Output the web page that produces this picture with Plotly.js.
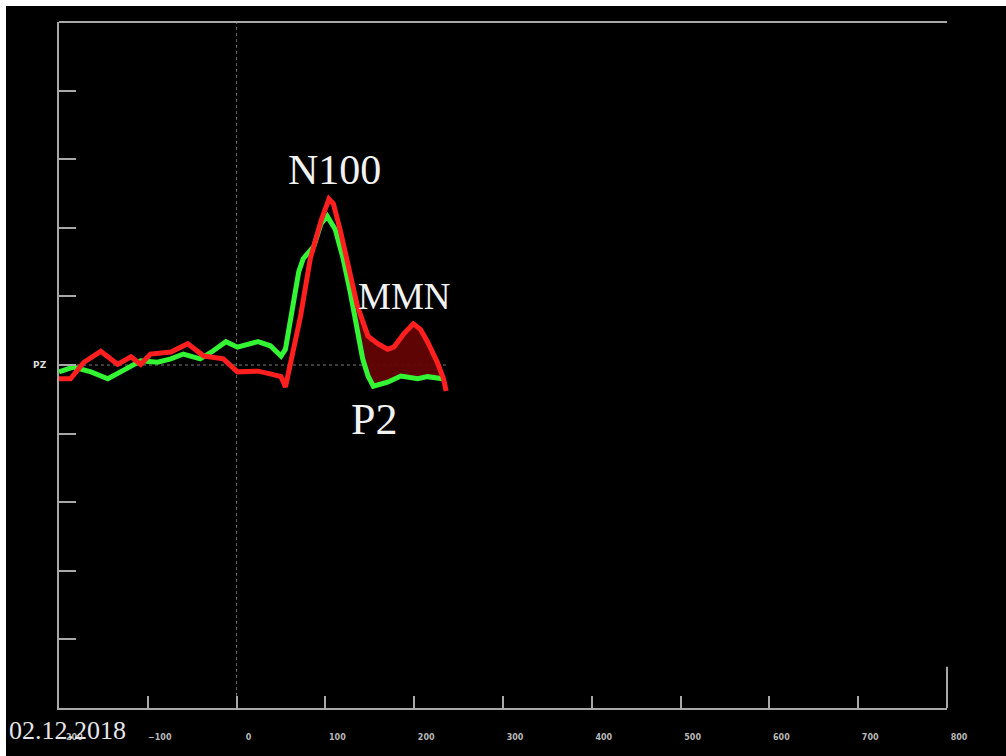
<!DOCTYPE html>
<html>
<head>
<meta charset="utf-8">
<script src="https://cdn.plot.ly/plotly-3.0.1.min.js"></script>
<style>
  html, body { margin: 0; padding: 0; background: #ffffff; }
  #erp { position: absolute; left: 6px; top: 6px; width: 1000px; height: 750px; background: #000; }
</style>
</head>
<body>
<div id="erp"></div>
<script>
// Averaged ERP at electrode PZ: standard (green) vs deviant (red), time in ms
const standardTime = [-200,-184,-164,-145,-125,-108,-89,-74,-60,-41,-27,-12,1,24,38,50,55,63,70,75,87,95,102,111,120,128,136,142,148,154,170,185,204,215,232];
const standardAmp  = [-0.10,-0.03,-0.10,-0.20,-0.06,0.06,0.04,0.09,0.16,0.09,0.20,0.34,0.26,0.34,0.28,0.13,0.23,0.86,1.36,1.55,1.73,2.06,2.17,1.98,1.55,1.06,0.52,0.09,-0.16,-0.31,-0.25,-0.16,-0.20,-0.17,-0.20];

const deviantTime = [-200,-187,-172,-153,-134,-119,-108,-97,-74,-55,-37,-15,1,24,38,50,55,61,72,83,95,104,109,117,125,136,148,159,170,177,188,199,207,215,226,233,236];
const deviantAmp  = [-0.20,-0.20,0.04,0.20,0.01,0.12,0.01,0.16,0.19,0.31,0.13,0.09,-0.10,-0.09,-0.13,-0.17,-0.32,0.04,0.71,1.55,2.10,2.42,2.35,1.95,1.50,0.86,0.42,0.31,0.23,0.26,0.45,0.60,0.52,0.34,0.04,-0.20,-0.38];

// Mismatch window shaded between the two waveforms
const mmnFrom = 136;

const xTickVals = [-200,-100,0,100,200,300,400,500,600,700,800];
const yTickVals = [-4,-3,-2,-1,0,1,2,3,4];
const yTickText = ['','','','','PZ','','','',''];

const peakLabels = [
  {text: 'N100', t: 110, v: 2.84, size: 42},
  {text: 'MMN',  t: 189, v: 1.00, size: 37},
  {text: 'P2',   t: 155, v: -0.80, size: 44}
];
const recordDate = '02.12.2018';

const axisGrey = '#a8a8a8';

function tail(ts, vs) {
  const x = [], y = [];
  ts.forEach((t, i) => { if (t >= mmnFrom) { x.push(t); y.push(vs[i]); } });
  return {x, y};
}
const sTail = tail(standardTime, standardAmp);
const dTail = tail(deviantTime, deviantAmp);

const traces = [
  {x: sTail.x, y: sTail.y, mode: 'lines', line: {width: 0}, hoverinfo: 'skip', showlegend: false},
  {x: dTail.x, y: dTail.y, mode: 'lines', line: {width: 0}, fill: 'tonexty',
   fillcolor: 'rgba(100,4,4,0.95)', hoverinfo: 'skip', showlegend: false},
  {x: standardTime, y: standardAmp, mode: 'lines', name: 'standard',
   line: {color: '#33f533', width: 5}, showlegend: false},
  {x: deviantTime, y: deviantAmp, mode: 'lines', name: 'deviant',
   line: {color: '#ff1f1f', width: 5}, showlegend: false}
];

const dataEnd = Math.max(...deviantTime, ...standardTime);

const layout = {
  width: 1000, height: 750,
  margin: {l: 53, r: 59, t: 16, b: 48},
  paper_bgcolor: '#000000',
  plot_bgcolor: '#000000',
  showlegend: false,
  xaxis: {
    range: [-200, 800], showgrid: false, zeroline: false,
    showline: true, linecolor: axisGrey, linewidth: 2,
    ticks: 'inside', ticklen: 12, tickwidth: 2, tickcolor: axisGrey,
    tickmode: 'array', tickvals: xTickVals,
    ticklabelstandoff: 20, ticklabelshift: 12,
    tickfont: {family: 'DejaVu Sans', size: 8, color: '#b8b8b8', weight: 'bold'}
  },
  yaxis: {
    range: [-5, 5], showgrid: false, zeroline: false,
    showline: true, linecolor: axisGrey, linewidth: 2,
    ticks: 'inside', ticklen: 17, tickwidth: 2, tickcolor: axisGrey,
    tickmode: 'array', tickvals: yTickVals, ticktext: yTickText,
    ticklabelstandoff: 9,
    tickfont: {family: 'DejaVu Sans', size: 9, color: '#dddddd', weight: 'bold'}
  },
  shapes: [
    // top frame edge and short right edge
    {type: 'line', xref: 'paper', yref: 'paper', x0: 0, x1: 1, y0: 1, y1: 1,
     line: {color: axisGrey, width: 2}},
    {type: 'line', xref: 'paper', yref: 'paper', x0: 1, x1: 1, y0: 0, y1: 0.06,
     line: {color: axisGrey, width: 2}},
    // stimulus onset and baseline
    {type: 'line', xref: 'x', yref: 'paper', x0: 0, x1: 0, y0: 0, y1: 1,
     line: {color: '#6a6a6a', width: 1, dash: 'dot'}, layer: 'below'},
    {type: 'line', xref: 'x', yref: 'y', x0: -200, x1: dataEnd, y0: 0, y1: 0,
     line: {color: '#7a7a7a', width: 1, dash: 'dot'}, layer: 'below'}
  ],
  annotations: peakLabels.map(p => ({
    x: p.t, y: p.v, xref: 'x', yref: 'y', text: p.text, showarrow: false,
    xanchor: 'center', yanchor: 'middle',
    font: {family: 'Liberation Serif', size: p.size, color: '#f2f2f2'}
  })).concat([{
    x: -0.0586, y: -0.0335, xref: 'paper', yref: 'paper', text: recordDate,
    showarrow: false, xanchor: 'left', yanchor: 'middle',
    font: {family: 'Liberation Serif', size: 26, color: '#e6e6e6'}
  }])
};

Plotly.newPlot('erp', traces, layout, {staticPlot: true, displayModeBar: false});
</script>
</body>
</html>
